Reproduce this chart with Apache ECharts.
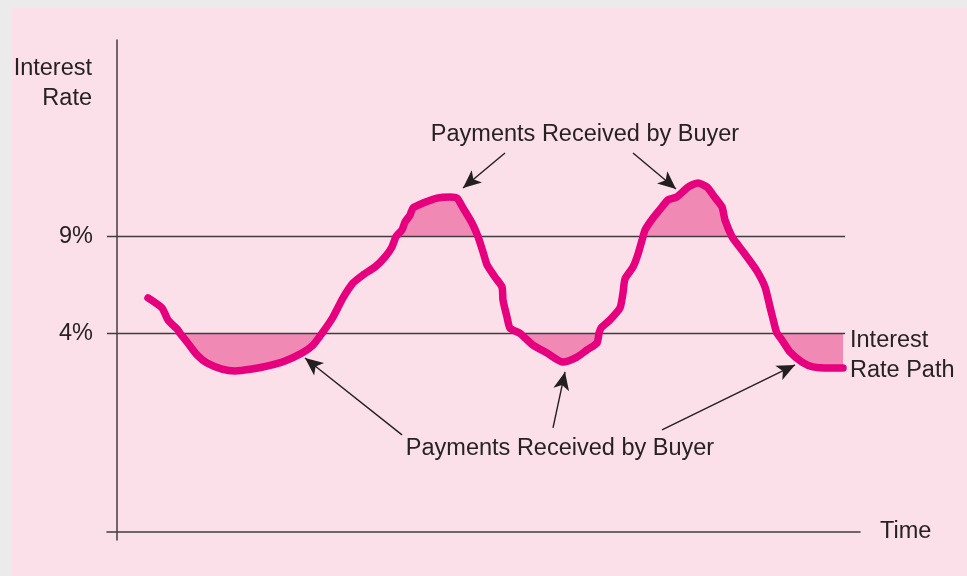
<!DOCTYPE html>
<html><head><meta charset="utf-8">
<script src="https://cdn.jsdelivr.net/npm/echarts@6/dist/echarts.min.js"></script>
<style>html,body{margin:0;padding:0;background:#ebebeb;} #c{width:967px;height:576px;}</style>
</head><body><div id="c"></div>
<script>
// ---- data (time in arbitrary units, rate in %) ----
const timePoints = [5.0,6.75,7.5,8.75,9.0,9.875,11.125,12.375,14.25,15.875,18.0,20.0,22.125,24.25,25.625,26.75,28.125,29.375,30.625,31.875,33.375,34.625,35.5,36.0,36.75,37.125,37.75,38.125,39.375,41.125,42.75,43.625,44.375,45.5,46.25,46.875,47.375,48.375,49.25,49.375,49.875,50.25,51.5,52.125,53.125,54.875,56.875,58.625,59.875,61.125,61.375,61.625,62.75,64.0,64.375,64.625,65.625,66.25,66.875,67.125,68.125,69.25,70.0,71.125,72.5,73.75,74.875,75.625,76.75,77.125,78.0,78.75,79.875,81.125,82.125,82.75,83.375,83.625,84.25,85.25,86.75,88.125,90.25,91.875];
const ratePoints = [5.83,5.31,4.69,4.17,4.0,3.55,2.88,2.46,2.15,2.05,2.15,2.31,2.57,2.98,3.39,4.0,4.84,5.83,6.60,7.02,7.43,7.95,8.47,9.0,9.35,9.76,10.12,10.49,10.74,11.00,11.06,11.00,10.49,9.71,9.0,8.21,7.54,6.91,6.40,5.72,4.84,4.27,4.0,3.76,3.39,2.98,2.51,2.77,3.14,3.50,4.0,4.27,4.69,5.31,6.09,6.81,7.43,8.10,9.0,9.35,9.97,10.54,10.90,11.06,11.57,11.78,11.57,11.16,10.54,9.86,9.0,8.57,7.95,7.22,6.40,5.36,4.33,4.0,3.65,3.03,2.51,2.26,2.20,2.20];
const upperLevel = 9;
const lowerLevel = 4;
const levelLabels = ['9%', '4%'];
const levelLineSpan = [-0.125, 92.125];
// arrows: [fromTime, fromRate, toTime, toRate]
const arrowsTop = [[49.625, 13.33, 44.375, 11.52], [65.625, 13.33, 71.0, 11.47]];
const arrowsBottom = [[36.75, -1.26, 24.625, 2.72], [55.625, -0.90, 57.125, 2.0], [69.25, -1.0, 85.875, 2.36]];
const annotationText = 'Payments Received by Buyer';

// ---- derived ----
const curve = timePoints.map((t, i) => [t, ratePoints[i]]);

// contiguous runs of points beyond a level (above: sign=1, below: sign=-1)
function regions(level, sign) {
  const out = [];
  let run = null;
  for (let i = 0; i < timePoints.length; i++) {
    const inside = sign * (ratePoints[i] - level) >= 0;
    if (inside) {
      if (!run) run = [];
      run.push([timePoints[i], ratePoints[i]]);
    } else if (run) {
      if (run.length > 1) out.push(run);
      run = null;
    }
  }
  if (run && run.length > 1) out.push(run);
  return out.map(r => r.concat([[r[r.length - 1][0], level], [r[0][0], level]]));
}
const fillRegions = regions(upperLevel, 1).concat(regions(lowerLevel, -1));

const TXT = '#262223', AX = '#403d40', LINE = '#e6007e', FILL = '#f08ab4';
const FONT = 'Liberation Sans, Arial, sans-serif';
const FS = 23.5;

const arrowData = arrowsTop.concat(arrowsBottom).map(a => [
  {coord: [a[0], a[1]], symbol: 'none'},
  {coord: [a[2], a[3]], symbol: 'arrow', symbolSize: [12, 18]}
]);

const chart = echarts.init(document.getElementById('c'), null, {renderer: 'canvas'});
chart.setOption({
  animation: false,
  backgroundColor: '#ebebeb',
  grid: {left: 107, right: 107, top: 40, bottom: 36, containLabel: false},
  xAxis: {
    type: 'value', min: -0.125, max: 94,
    axisLine: {show: true, onZero: false, lineStyle: {color: AX, width: 1.5}},
    offset: -8,
    axisTick: {show: false}, axisLabel: {show: false}, splitLine: {show: false}
  },
  yAxis: {
    type: 'value', min: -6.70, max: 19.18,
    offset: -10,
    axisLine: {show: true, onZero: false, lineStyle: {color: AX, width: 1.5}},
    axisTick: {show: false}, axisLabel: {show: false}, splitLine: {show: false}
  },
  graphic: [
    {type: 'rect', z: -100, silent: true, shape: {x: 12, y: 8, width: 955, height: 568}, style: {fill: '#fbdfe9'}},
    {type: 'text', z: 100, x: 92, y: 83.5, silent: true,
     style: {text: 'Interest\nRate', align: 'right', verticalAlign: 'middle', lineHeight: 30, font: FS + 'px ' + FONT, fill: TXT}},
    {type: 'text', z: 100, x: 850, y: 355.5, silent: true,
     style: {text: 'Interest\nRate Path', align: 'left', verticalAlign: 'middle', lineHeight: 30, font: FS + 'px ' + FONT, fill: TXT}},
    {type: 'text', z: 100, x: 880, y: 532, silent: true,
     style: {text: 'Time', align: 'left', verticalAlign: 'middle', font: FS + 'px ' + FONT, fill: TXT}},
    {type: 'text', z: 100, x: 585, y: 134.5, silent: true,
     style: {text: annotationText, align: 'center', verticalAlign: 'middle', font: FS + 'px ' + FONT, fill: TXT}},
    {type: 'text', z: 100, x: 560, y: 449, silent: true,
     style: {text: annotationText, align: 'center', verticalAlign: 'middle', font: FS + 'px ' + FONT, fill: TXT}}
  ],
  series: [
    {type: 'custom', name: 'fills', silent: true, z: 1,
     data: fillRegions.map((r, i) => [i]),
     renderItem: function (params, api) {
       const r = fillRegions[params.dataIndex];
       return {type: 'polygon', shape: {points: r.map(p => api.coord(p)), smooth: 0}, style: {fill: FILL, stroke: null}};
     },
     markLine: {
       silent: true, symbol: 'none',
       lineStyle: {color: AX, width: 1.4, type: 'solid'},
       label: {show: true, position: 'start', distance: 14, fontSize: FS, fontFamily: FONT, color: TXT},
       emphasis: {disabled: true},
       data: [
         [{coord: [levelLineSpan[0], upperLevel], label: {formatter: levelLabels[0]}}, {coord: [levelLineSpan[1], upperLevel]}],
         [{coord: [levelLineSpan[0], lowerLevel], label: {formatter: levelLabels[1]}}, {coord: [levelLineSpan[1], lowerLevel]}]
       ]
     }},
    {type: 'line', name: 'rate', data: curve, symbol: 'none', silent: true, smooth: 0.2,
     lineStyle: {color: LINE, width: 7.5, join: 'round', cap: 'round'}, z: 5,
     markLine: {
       silent: true,
       lineStyle: {color: '#231f20', width: 1.4, type: 'solid'},
       label: {show: false},
       emphasis: {disabled: true},
       data: arrowData
     }}
  ]
});
</script></body></html>
